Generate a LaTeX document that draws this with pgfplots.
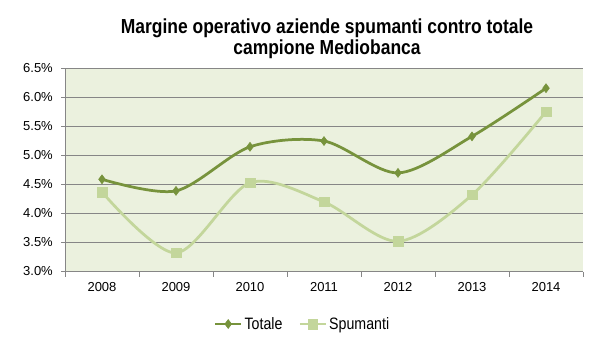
\documentclass[border=0pt]{standalone}
\usepackage{fontspec}
\setmainfont{Liberation Sans}
\newfontfamily\narrow[FakeStretch=0.86]{Liberation Sans}
\usepackage{pgfplots}
\pgfplotsset{compat=1.18}
\definecolor{tot}{HTML}{77933C}
\definecolor{spu}{HTML}{C3D69B}
\definecolor{bg}{HTML}{EBF1DE}
\definecolor{gridc}{HTML}{868686}
\begin{document}
\begin{tikzpicture}
\path[use as bounding box, fill=white] (0pt,0pt) rectangle (601pt,-345pt);
\node[anchor=base, font=\narrow\bfseries\fontsize{20.3}{22}\selectfont] at (327pt,-33.3pt) {Margine operativo aziende spumanti contro totale};
\node[anchor=base, font=\narrow\bfseries\fontsize{20.3}{22}\selectfont] at (327pt,-54.5pt) {campione Mediobanca};
\begin{axis}[
  at={(65pt,-271.5pt)}, anchor=south west,
  scale only axis, width=518pt, height=203pt,
  xmin=-0.5, xmax=6.5, ymin=3, ymax=6.5,
  xtick={0,...,6},
  xticklabels={2008,2009,2010,2011,2012,2013,2014},
  minor xtick={-0.5,0.5,...,6.5},
  ytick={3,3.5,...,6.5},
  yticklabel={\pgfmathprintnumber[fixed,fixed zerofill,precision=1]{\tick}\%},
  /pgf/number format/assume math mode=true,
  axis x line*=bottom, axis y line*=left,
  axis line style={draw=gridc, line width=1pt},
  ymajorgrids, grid style={draw=gridc, line width=1pt},
  tick align=outside,
  major x tick style={draw=none},
  minor x tick style={draw=gridc, line width=1pt},
  minor tick length=5pt,
  major tick length=4pt,
  y tick style={draw=gridc, line width=1pt},
  axis background/.style={fill=bg},
  ticklabel style={font=\fontsize{13}{15}\selectfont, text=black},
  yticklabel style={inner sep=0pt, xshift=-8pt},
  xticklabel style={inner sep=0pt, yshift=-7pt},
  legend style={at={(0.4585,-0.2586)}, anchor=center, draw=none, fill=none,
    legend columns=2, font=\narrow\fontsize{16.5}{18}\selectfont,
    /tikz/every even column/.append style={column sep=14pt}},
  legend image code/.code={\draw[#1, mark repeat=2, mark phase=2] plot coordinates {(0pt,0pt) (13pt,0pt) (26pt,0pt)};},
]
\addplot[tot, line width=2.75pt, smooth, mark=diamond*, mark size=4.5pt, mark options={line width=0.5pt, fill=tot}]
coordinates {(0,4.59) (1,4.39) (2,5.15) (3,5.25) (4,4.70) (5,5.33) (6,6.16)};
\addlegendentry{Totale}
\addplot[spu, line width=2.75pt, smooth, mark=square*, mark size=4.8pt, mark options={line width=0.5pt, fill=spu}]
coordinates {(0,4.37) (1,3.32) (2,4.53) (3,4.20) (4,3.52) (5,4.32) (6,5.755)};
\addlegendentry{Spumanti}
\end{axis}
\end{tikzpicture}
\end{document}
